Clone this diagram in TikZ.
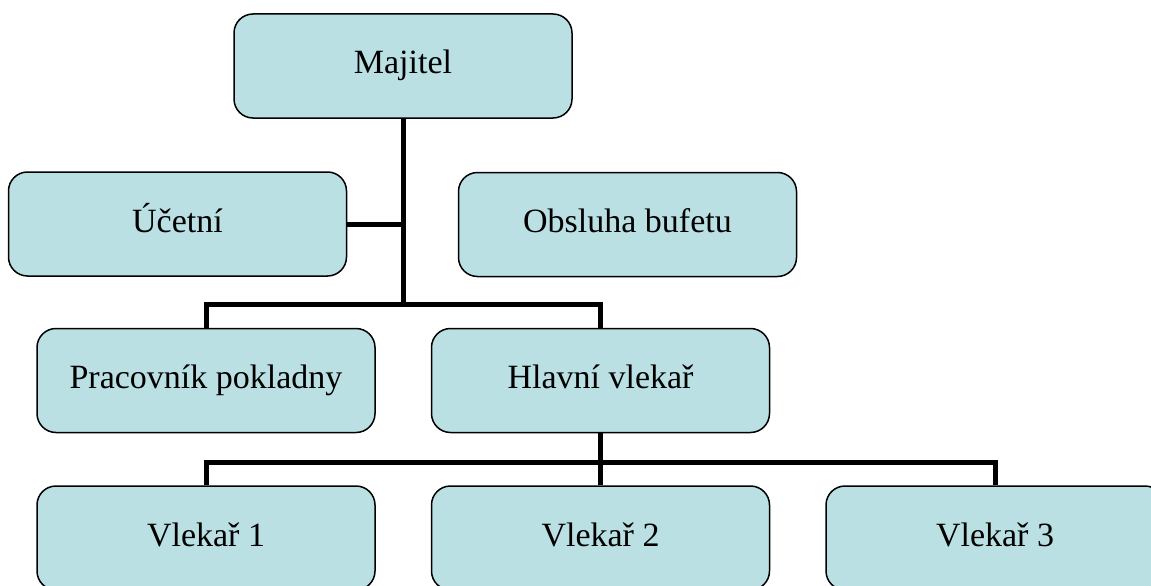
\documentclass[tikz,border=0pt]{standalone}
\usepackage{fontspec}
\setmainfont{Liberation Serif}
\definecolor{boxfill}{RGB}{186,224,227}
\begin{document}
\begin{tikzpicture}[x=1pt,y=-1pt,
  orgbox/.style={draw=black, line width=1.5pt, fill=boxfill, rounded corners=19pt,
    minimum width=338pt, minimum height=104pt, inner sep=0pt,
    text height=16pt, text depth=0pt,
    font=\fontsize{34}{40}\selectfont},
  conn/.style={draw=black, line width=5pt, line join=miter}]
\useasboundingbox (0,0) rectangle (1151,586);
\node[orgbox] (maj) at (403,66) {Majitel};
\node[orgbox] (uc) at (177.5,224) {Účetní};
\node[orgbox] (ob) at (627.5,224.5) {Obsluha bufetu};
\node[orgbox] (prac) at (206,380.5) {Pracovník pokladny};
\node[orgbox] (hl) at (600.5,380.5) {Hlavní vlekař};
\node[orgbox] (v1) at (206,538) {Vlekař 1};
\node[orgbox] (v2) at (600.5,538) {Vlekař 2};
\node[orgbox] (v3) at (995,538) {Vlekař 3};
\coordinate (j1) at (403,304);
\coordinate (j2) at (600.5,462);
\draw[conn] (maj.south) -- (j1);
\draw[conn] (uc.east) -- (uc.east -| j1);
\draw[conn] (prac.north) |- (j1) -| (hl.north);
\draw[conn] (hl.south) -- (j2);
\draw[conn] (v1.north) |- (j2) -| (v3.north);
\draw[conn] (j2) -- (v2.north);
\end{tikzpicture}
\end{document}
